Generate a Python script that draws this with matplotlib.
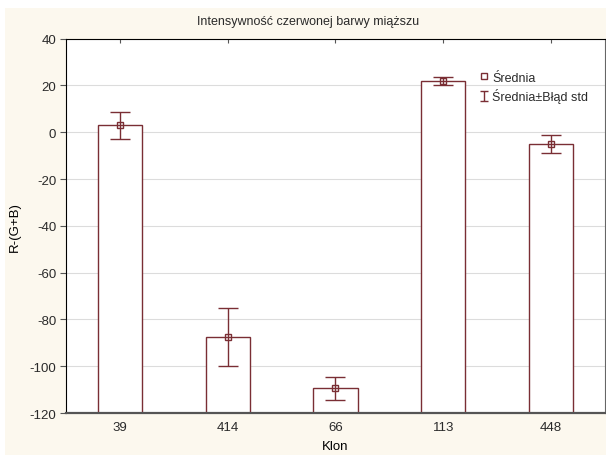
import matplotlib
matplotlib.use('Agg')
import matplotlib.pyplot as plt
from matplotlib.lines import Line2D
from matplotlib.path import Path
from matplotlib.patches import Rectangle

plt.rcParams['font.family'] = ['Liberation Sans', 'DejaVu Sans']
plt.rcParams['axes.unicode_minus'] = False
plt.rcParams['text.color'] = '#2a2a2a'
plt.rcParams['xtick.labelcolor'] = '#2a2a2a'
plt.rcParams['ytick.labelcolor'] = '#2a2a2a'

# dane
klony = ['39', '414', '66', '113', '448']
srednie = [3.0, -87.5, -109.5, 22.0, -5.0]
bledy_std = [5.8, 12.4, 5.0, 1.8, 3.7]

bar_color = '#7a2e34'
bg_color = '#fcf8ee'

fig = plt.figure(figsize=(6.06, 4.56), dpi=100, facecolor=bg_color)
# biały margines u góry i z lewej, jak na zrzucie
fig.patches.append(Rectangle((0, 1 - 9 / 456), 1, 9 / 456, transform=fig.transFigure,
                             facecolor='white', edgecolor='none'))
fig.patches.append(Rectangle((0, 0), 5 / 606, 1, transform=fig.transFigure,
                             facecolor='white', edgecolor='none'))

ax = fig.add_axes([0.109, 0.092, 0.889, 0.821])

x = list(range(len(klony)))
# słupki od dołu osi (-120) do średniej
ax.bar(x, [s + 120 for s in srednie], bottom=-120, width=0.41,
       color='white', edgecolor=bar_color, linewidth=1.0, zorder=2)
ax.errorbar(x, srednie, yerr=bledy_std, fmt='s', color=bar_color,
            markerfacecolor='none', markeredgecolor=bar_color, markersize=4,
            elinewidth=1.0, capsize=7.5, capthick=1.0, zorder=3)

ax.set_xlim(-0.5, len(klony) - 0.5)
ax.set_ylim(-120, 40)
ax.set_yticks(range(-120, 41, 20))
ax.set_xticks(x)
ax.set_xticklabels(klony)
ax.grid(axis='y', color='#dcdcdc', linewidth=0.8, zorder=0)
ax.set_axisbelow(True)

ax.tick_params(axis='x', direction='in', top=True, length=3, labelsize=9.5,
               color='#555555', pad=6)
ax.tick_params(axis='y', direction='out', length=4, labelsize=9.5,
               color='#555555', pad=3)
for s in ['top', 'left']:
    ax.spines[s].set_color('black')
ax.spines['bottom'].set_color('#555555')
ax.spines['bottom'].set_linewidth(1.6)
ax.spines['right'].set_color('#666666')

# tytuł wyśrodkowany względem całej ryciny, nie osi
fig.text(308 / 606, 1 - 22 / 456, 'Intensywność czerwonej barwy miąższu',
         fontsize=9, ha='center', va='center')
ax.set_xlabel('Klon', fontsize=9.5, labelpad=5)
ax.set_ylabel('R-(G+B)', fontsize=9.5, labelpad=6)

# znacznik "I" dla błędu standardowego
ibar = Path([(-0.7, 1), (0.7, 1), (0, 1), (0, -1), (-0.7, -1), (0.7, -1)],
            [Path.MOVETO, Path.LINETO, Path.MOVETO, Path.LINETO, Path.MOVETO, Path.LINETO])
handles = [
    Line2D([], [], linestyle='none', marker='s', markersize=5,
           markerfacecolor='none', markeredgecolor=bar_color),
    Line2D([], [], linestyle='none', marker=ibar, markersize=7.5,
           markerfacecolor='none', markeredgecolor=bar_color, markeredgewidth=1.0),
]
ax.legend(handles, ['Średnia', 'Średnia±Błąd std'], loc='upper left',
          bbox_to_anchor=(0.758, 0.925), frameon=False, fontsize=9,
          handlelength=0.7, handletextpad=0.3, labelspacing=0.35,
          borderaxespad=0)

fig.savefig('out.png', dpi=100, facecolor=bg_color)
